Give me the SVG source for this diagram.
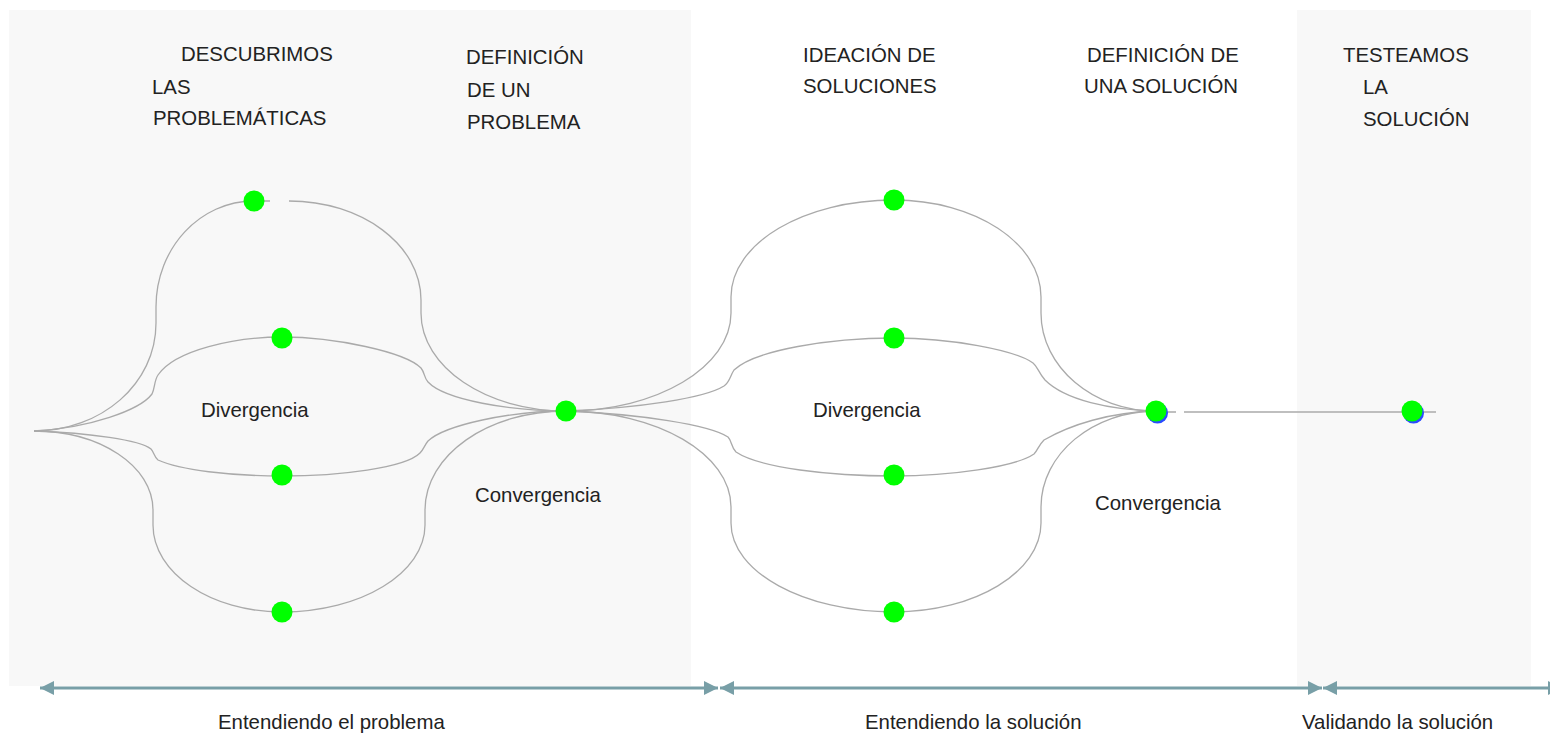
<svg xmlns="http://www.w3.org/2000/svg" width="1550" height="737" viewBox="0 0 1550 737">
<style>
.bg{fill:#f8f8f8}
.t{font-family:"Liberation Sans",Arial,sans-serif;font-size:20.4px;fill:#222}
.c{fill:none;stroke:#aaaaaa;stroke-width:1.3}
.a{stroke:#789fa7;stroke-width:3;fill:none}
.n{fill:#00ff00}
.s{fill:#2a4bff}
</style>
<defs>
<marker id="ah" markerUnits="userSpaceOnUse" markerWidth="14" markerHeight="14" refX="14" refY="7" orient="auto-start-reverse" viewBox="0 0 14 14">
<path d="M0,0 L14,7 L0,14 z" fill="#789fa7"/>
</marker>
</defs>
<rect width="1550" height="737" fill="#ffffff"/>
<g id="backgrounds">
<rect class="bg" x="9" y="10" width="682" height="676"/>
<rect class="bg" x="1297" y="10" width="234" height="676"/>
</g>
<g id="connectors">
<path class="c" d="M34,431 C101,431 156,384 156,323 L156,307 C156,248 200,201 254,201 L270,201"/>
<path class="c" d="M289,201 C362,201 421,245 421,300 L421,313 C421,367 486,411 566,411"/>
<path class="c" d="M34,431 C90,428 140,410 152,394 C155,388 154,381 158,375 C175,350 235,337 282,337 C335,337 405,352 421,368 C425,373 424,378 428,382 C445,400 510,411 566,411"/>
<path class="c" d="M34,431 C90,433 140,440 151,449 C154,452 154,457 158,460 C180,470 230,476 282,476 C340,476 405,468 420,453 C424,449 424,446 428,441 C445,425 510,411 566,411"/>
<path class="c" d="M34,431 C100,431 153,466 153,510 L153,525 C153,573 211,612 282,612 C361,612 425,573 425,525 L425,510 C425,455 488,411 566,411"/>
<path class="c" d="M566,411 C657,411 731,367 731,313 L731,297 C731,243 804,200 894,200 C975,200 1041,243 1041,297 L1041,313 C1041,367 1093,411 1156,411"/>
<path class="c" d="M566,411 C640,408 705,398 724,386 C730,382 730,376 734,370 C755,350 830,338 894,338 C950,338 1015,350 1033,363 C1038,367 1038,372 1045,380 C1065,400 1110,410 1156,411"/>
<path class="c" d="M566,411 C640,414 710,425 728,437 C732,441 731,447 736,452 C760,468 830,476 894,476 C950,476 1015,467 1034,454 C1038,450 1038,446 1044,440 C1070,425 1110,412 1156,411"/>
<path class="c" d="M566,411 C657,411 731,454 731,507 L731,523 C731,572 804,612 894,612 C975,612 1041,572 1041,523 L1041,507 C1041,454 1093,411 1156,411"/>
<path class="c" d="M1156,412 L1176,412 M1184,412 L1436,412"/>
<line class="a" x1="40" y1="688" x2="718" y2="688" marker-start="url(#ah)" marker-end="url(#ah)"/>
<line class="a" x1="720" y1="688" x2="1322" y2="688" marker-start="url(#ah)" marker-end="url(#ah)"/>
<line class="a" x1="1323" y1="688" x2="1562" y2="688" marker-start="url(#ah)" marker-end="url(#ah)"/>
</g>
<g id="node-p1"><circle class="n" cx="254" cy="201" r="10.5"/></g>
<g id="node-p2"><circle class="n" cx="282" cy="338" r="10.5"/></g>
<g id="node-p3"><circle class="n" cx="282" cy="475" r="10.5"/></g>
<g id="node-p4"><circle class="n" cx="282" cy="612" r="10.5"/></g>
<g id="node-c1"><circle class="n" cx="566" cy="411" r="10.5"/></g>
<g id="node-s1"><circle class="n" cx="894" cy="200" r="10.5"/></g>
<g id="node-s2"><circle class="n" cx="894" cy="338" r="10.5"/></g>
<g id="node-s3"><circle class="n" cx="894" cy="475" r="10.5"/></g>
<g id="node-s4"><circle class="n" cx="894" cy="612" r="10.5"/></g>
<g id="node-c2"><circle class="s" cx="1157.5" cy="413" r="10.5"/><circle class="n" cx="1156" cy="411" r="10.5"/></g>
<g id="node-t"><circle class="s" cx="1413.5" cy="413" r="10.5"/><circle class="n" cx="1412" cy="411" r="10.5"/></g>
<g id="labels">
<text class="t" x="181" y="61">DESCUBRIMOS</text>
<text class="t" x="152" y="94">LAS</text>
<text class="t" x="153" y="125">PROBLEMÁTICAS</text>
<text class="t" x="466" y="64">DEFINICIÓN</text>
<text class="t" x="467" y="97">DE UN</text>
<text class="t" x="467" y="129">PROBLEMA</text>
<text class="t" x="803" y="62">IDEACIÓN DE</text>
<text class="t" x="803" y="93">SOLUCIONES</text>
<text class="t" x="1087" y="62">DEFINICIÓN DE</text>
<text class="t" x="1084" y="93">UNA SOLUCIÓN</text>
<text class="t" x="1343" y="62">TESTEAMOS</text>
<text class="t" x="1363" y="94">LA</text>
<text class="t" x="1363" y="126">SOLUCIÓN</text>
<text class="t" x="201" y="417">Divergencia</text>
<text class="t" x="475" y="502">Convergencia</text>
<text class="t" x="813" y="417">Divergencia</text>
<text class="t" x="1095" y="510">Convergencia</text>
<text class="t" x="218" y="729">Entendiendo el problema</text>
<text class="t" x="865" y="729">Entendiendo la solución</text>
<text class="t" x="1302" y="729">Validando la solución</text>
</g>
</svg>
